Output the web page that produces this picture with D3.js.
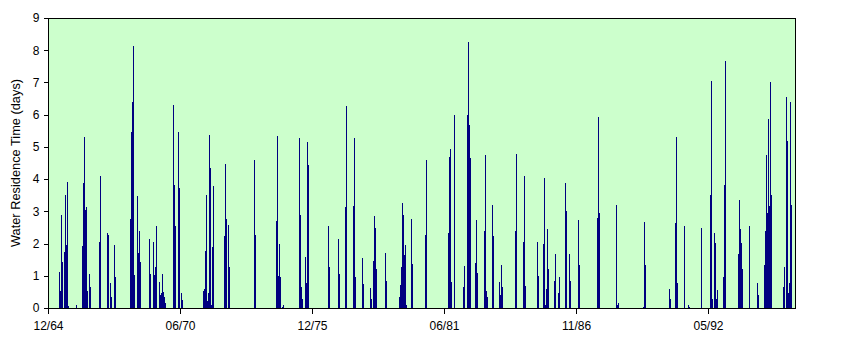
<!DOCTYPE html>
<html>
<head>
<meta charset="utf-8">
<script src="https://cdn.jsdelivr.net/npm/d3@7"></script>
<style>
  html, body { margin: 0; padding: 0; background: #ffffff; }
  svg { display: block; font-family: "Liberation Sans", Arial, sans-serif; }
  .tick-label { font-size: 12px; fill: #000000; }
  .axis-title { font-size: 12.8px; fill: #000000; }
</style>
</head>
<body>
<svg id="chart" width="852" height="350"></svg>
<script>
const WIDTH = 852;
const HEIGHT = 350;
const PLOT = { left: 48, right: 796, top: 18, bottom: 308 };

// Start of each event column, in decimal years
const EVENT_YEARS = [
  1965.375, 1965.417, 1965.458, 1965.5, 1965.583, 1965.625, 1965.667, 1965.708, 1965.75,
  1966.083, 1966.333, 1966.375, 1966.417, 1966.458, 1966.5, 1966.542, 1966.625, 1966.667,
  1967.042, 1967.083, 1967.375, 1967.417, 1967.5, 1967.542, 1967.667, 1967.708,
  1968.333, 1968.375, 1968.417, 1968.458, 1968.5, 1968.625, 1968.667, 1968.708, 1968.75,
  1969.125, 1969.167, 1969.292, 1969.333, 1969.375, 1969.417,
  1969.542, 1969.583, 1969.625, 1969.667, 1969.708, 1969.75, 1969.792,
  1970.125, 1970.167, 1970.208, 1970.333, 1970.375, 1970.458, 1970.5,
  1971.375, 1971.417, 1971.458, 1971.5, 1971.542, 1971.583, 1971.625, 1971.667, 1971.708, 1971.75, 1971.792,
  1972.25, 1972.292, 1972.333, 1972.417, 1972.458,
  1973.5, 1973.542,
  1974.417, 1974.458, 1974.5, 1974.542, 1974.583, 1974.667, 1974.708,
  1975.375, 1975.417, 1975.458, 1975.5, 1975.625, 1975.667, 1975.708, 1975.75,
  1976.583, 1976.625, 1977.0, 1977.042, 1977.292, 1977.333, 1977.625, 1977.667, 1977.708,
  1978.0, 1978.042, 1978.333, 1978.375, 1978.458, 1978.5, 1978.542, 1978.583, 1978.958, 1979.0,
  1979.542, 1979.583, 1979.625, 1979.667, 1979.708, 1979.75, 1979.792, 1979.833,
  1980.042, 1980.083, 1980.625, 1980.667,
  1981.583, 1981.625, 1981.667, 1981.708, 1981.833,
  1982.208, 1982.25, 1982.375, 1982.417, 1982.458, 1982.5, 1982.708, 1982.75, 1982.792,
  1983.083, 1983.125, 1983.167, 1983.208, 1983.417, 1983.458, 1983.708, 1983.75, 1983.792, 1983.833,
  1984.375, 1984.417, 1984.708, 1984.75, 1984.792,
  1985.292, 1985.333, 1985.542, 1985.583, 1985.625, 1985.667, 1985.708, 1985.75,
  1986.0, 1986.042, 1986.167, 1986.208, 1986.458, 1986.5, 1986.625, 1986.667,
  1987.0, 1987.042, 1987.792, 1987.833, 1987.875,
  1988.583, 1988.625, 1988.667, 1989.708, 1989.75, 1989.792,
  1990.792, 1990.833, 1991.042, 1991.083, 1991.125, 1991.417, 1991.583, 1991.625,
  1992.125, 1992.5, 1992.542, 1992.583, 1992.667, 1992.708, 1992.75, 1992.792,
  1993.042, 1993.083, 1993.125, 1993.667, 1993.708, 1993.75, 1993.792, 1993.833,
  1994.125, 1994.458, 1994.5,
  1994.75, 1994.792, 1994.833, 1994.875, 1994.917, 1994.958, 1995.0, 1995.042,
  1995.542, 1995.583, 1995.667, 1995.708, 1995.75, 1995.792, 1995.833, 1995.875
];

// Water residence time (days), one per column above
const RESIDENCE_DAYS = [
  1.12, 0.54, 2.9, 1.43, 1.74, 3.52, 1.97, 3.91, 0.07,
  0.1, 1.93, 3.87, 5.3, 3.04, 3.15, 0.52, 1.06, 0.64,
  2.05, 4.1, 2.34, 2.28, 0.77, 0.35, 1.97, 0.97,
  2.75, 5.47, 6.38, 8.12, 1.01, 3.48, 1.72, 2.38, 1.43,
  2.15, 1.06, 2.05, 1.01, 1.28, 2.55,
  0.81, 0.39, 0.46, 1.04, 0.5, 0.35, 0.17,
  6.31, 3.83, 2.53, 5.45, 3.71, 0.46, 0.25,
  0.52, 0.58, 1.76, 3.52, 0.23, 0.48, 5.38, 4.35, 0.08, 1.9, 3.79,
  2.24, 4.47, 2.77, 2.59, 1.28,
  4.6, 2.28,
  2.69, 5.34, 0.99, 1.99, 0.97, 0.04, 0.1,
  5.28, 2.9, 0.64, 0.29, 1.59, 0.79, 5.16, 4.43,
  2.55, 1.26, 2.15, 1.06, 3.15, 6.27, 3.17, 5.28, 0.97,
  1.55, 0.75, 0.62, 0.29, 1.47, 2.86, 2.48, 1.22, 1.72, 0.85,
  0.35, 0.72, 1.26, 3.27, 2.9, 1.66, 1.97, 0.08,
  2.77, 1.37, 2.28, 4.58,
  2.34, 4.7, 4.95, 0.81, 6.0,
  0.66, 1.3, 6.0, 8.24, 5.69, 4.66, 1.39, 2.73, 1.1,
  2.38, 4.76, 0.54, 0.35, 3.21, 2.24, 0.81, 0.39, 1.35, 0.66,
  2.4, 4.78, 2.05, 4.1, 0.68,
  2.05, 0.99, 1.99, 4.02, 0.1, 0.6, 2.46, 1.22,
  0.85, 1.68, 0.48, 0.95, 3.89, 3.02, 1.68, 0.83,
  2.73, 1.35, 2.8, 5.94, 2.96,
  3.21, 0.1, 0.17, 0.04, 2.67, 1.33,
  0.6, 0.29, 2.65, 5.32, 0.79, 2.55, 0.1, 0.04,
  2.48, 3.52, 7.04, 0.29, 2.34, 2.03, 0.29, 0.56,
  0.95, 3.83, 7.66, 1.68, 3.35, 2.44, 2.03, 1.22,
  2.53, 0.79, 0.39,
  1.33, 2.38, 4.74, 2.94, 5.86, 3.17, 7.0, 3.5,
  0.64, 1.28, 6.54, 5.18, 0.48, 0.79, 6.38, 3.19
];

const TICK_YEARS = [1964.917, 1970.417, 1975.917, 1981.417, 1986.917, 1992.417];
const TICK_LABELS = ["12/64", "06/70", "12/75", "06/81", "11/86", "05/92"];
const Y_TICKS = [0, 1, 2, 3, 4, 5, 6, 7, 8, 9];

const svg = d3.select("#chart");

const x = d3.scaleLinear()
  .domain([1964.917, 1996.083])
  .range([PLOT.left, PLOT.right]);

const y = d3.scaleLinear()
  .domain([0, 9])
  .range([PLOT.bottom, PLOT.top]);

// plot background
svg.append("rect")
  .attr("x", PLOT.left)
  .attr("y", PLOT.top)
  .attr("width", PLOT.right - PLOT.left)
  .attr("height", PLOT.bottom - PLOT.top)
  .attr("fill", "#ccffcc");

const data = EVENT_YEARS.map((yr, i) => ({ year: yr, value: RESIDENCE_DAYS[i] }));

svg.append("g")
  .selectAll("rect")
  .data(data)
  .join("rect")
  .attr("x", (d) => Math.round(x(d.year)))
  .attr("width", 1)
  .attr("y", (d) => y(d.value))
  .attr("height", (d) => PLOT.bottom - y(d.value))
  .attr("fill", "#000080")
  .attr("shape-rendering", "crispEdges");

// frame
svg.append("rect")
  .attr("x", PLOT.left + 0.5)
  .attr("y", PLOT.top + 0.5)
  .attr("width", PLOT.right - PLOT.left - 1)
  .attr("height", PLOT.bottom - PLOT.top)
  .attr("fill", "none")
  .attr("stroke", "#000000")
  .attr("stroke-width", 1)
  .attr("shape-rendering", "crispEdges");

// y axis
const yAxis = svg.append("g")
  .attr("transform", `translate(${PLOT.left + 0.5},0)`)
  .call(d3.axisLeft(y).tickValues(Y_TICKS).tickSize(5).tickPadding(4).tickFormat(d3.format("d")));
yAxis.select(".domain").remove();
yAxis.selectAll("line").attr("stroke", "#000000").attr("shape-rendering", "crispEdges");
yAxis.selectAll("text")
  .attr("class", "tick-label")
  .attr("font-family", null)
  .attr("font-size", null);

// x axis
const xAxis = svg.append("g")
  .attr("transform", `translate(0,${PLOT.bottom + 0.5})`)
  .call(d3.axisBottom(x)
    .tickValues(TICK_YEARS)
    .tickSize(5)
    .tickPadding(8)
    .tickFormat((d, i) => TICK_LABELS[i]));
xAxis.select(".domain").remove();
xAxis.selectAll("line").attr("stroke", "#000000").attr("shape-rendering", "crispEdges");
xAxis.selectAll("text")
  .attr("class", "tick-label")
  .attr("font-family", null)
  .attr("font-size", null);

svg.append("text")
  .attr("class", "axis-title")
  .attr("transform", `translate(20,${(PLOT.top + PLOT.bottom) / 2}) rotate(-90)`)
  .attr("text-anchor", "middle")
  .text("Water Residence Time (days)");
</script>
</body>
</html>
